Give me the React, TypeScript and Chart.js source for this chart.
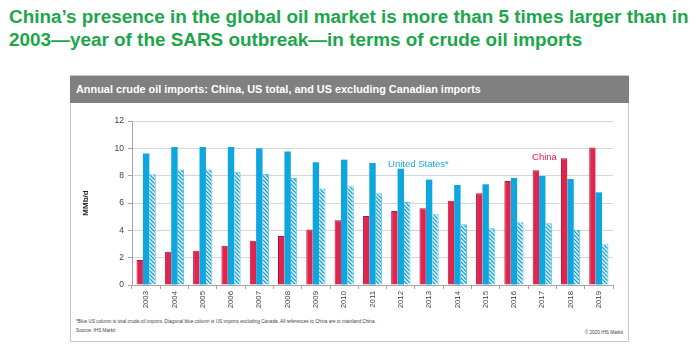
import React, { useEffect, useRef } from "react";
import { Chart, registerables } from "chart.js";

Chart.register(...registerables);

const years = ["2003", "2004", "2005", "2006", "2007", "2008", "2009", "2010", "2011", "2012", "2013", "2014", "2015", "2016", "2017", "2018", "2019"];
const china = [1.83, 2.44, 2.51, 2.88, 3.24, 3.59, 4.07, 4.73, 5.05, 5.41, 5.61, 6.17, 6.71, 7.61, 8.39, 9.27, 10.07];
const usTotal = [9.63, 10.1, 10.1, 10.1, 10.0, 9.76, 8.98, 9.17, 8.93, 8.51, 7.71, 7.32, 7.37, 7.83, 7.98, 7.76, 6.78];
const usExCanada = [8.1, 8.46, 8.46, 8.29, 8.12, 7.83, 7.07, 7.22, 6.71, 6.07, 5.17, 4.44, 4.15, 4.59, 4.51, 4.02, 2.98];
const yTicks = [0, 2, 4, 6, 8, 10, 12];

const titleText = "China\u2019s presence in the global oil market is more than 5 times larger than in 2003\u2014year of the SARS outbreak\u2014in terms of crude oil imports";
const headerText = "Annual crude oil imports: China, US total, and US excluding Canadian imports";
const footnoteText = "*Blue US column is total crude oil imports. Diagonal blue column is US imports excluding Canada. All references to China are to mainland China.";
const sourceText = "Source: IHS Markit";
const copyrightText = "\u00a9 2020 IHS Markit";

const seriesLabels = [
  { text: "United States*", index: 8.55, value: 8.85, color: "#1aa7df" },
  { text: "China", index: 13.64, value: 9.37, color: "#e2234b" },
];

const RED = "#e2234b";
const BLUE = "#0ea6df";
const FONT = '"Liberation Sans", Arial, sans-serif';

function makeHatch(): CanvasPattern | string {
  const c = document.createElement("canvas");
  c.width = 4;
  c.height = 4;
  const g = c.getContext("2d");
  if (!g) return BLUE;
  g.fillStyle = "#ffffff";
  g.fillRect(0, 0, 4, 4);
  g.strokeStyle = BLUE;
  g.lineWidth = 1.4;
  g.beginPath();
  g.moveTo(-1, -1); g.lineTo(5, 5);
  g.moveTo(-1, 3); g.lineTo(1, 5);
  g.moveTo(3, -1); g.lineTo(5, 1);
  g.stroke();
  const p = g.createPattern(c, "repeat");
  return p || BLUE;
}

const labelPlugin = {
  id: "seriesLabels",
  afterDatasetsDraw(chart: any) {
    const { ctx, scales } = chart;
    ctx.save();
    ctx.font = `9.5px ${FONT}`;
    ctx.textAlign = "left";
    ctx.textBaseline = "middle";
    seriesLabels.forEach((l) => {
      ctx.fillStyle = l.color;
      ctx.fillText(l.text, scales.x.getPixelForValue(l.index), scales.y.getPixelForValue(l.value));
    });
    ctx.restore();
  },
};

export default function App() {
  const ref = useRef<HTMLCanvasElement>(null);
  useEffect(() => {
    if (!ref.current) return;
    const hatch = makeHatch();
    const chart = new Chart(ref.current, {
      type: "bar",
      data: {
        labels: years,
        datasets: [
          { label: "China", data: china, backgroundColor: RED, borderColor: "#a8163a", borderWidth: { left: 1, top: 1, right: 0, bottom: 0 } as any, borderSkipped: false as any },
          { label: "US total", data: usTotal, backgroundColor: BLUE, borderWidth: 0 },
          { label: "US excl. Canada", data: usExCanada, backgroundColor: hatch as any, borderColor: "#5cc3ea", borderWidth: { left: 0, top: 1, right: 1, bottom: 0 } as any, borderSkipped: false as any },
        ],
      },
      options: {
        animation: false,
        responsive: false,
        maintainAspectRatio: false,
        layout: { padding: { top: 17, right: 15, left: 0, bottom: 0 } },
        plugins: { legend: { display: false }, tooltip: { enabled: false }, title: { display: false } },
        datasets: { bar: { categoryPercentage: 0.68, barPercentage: 1 } },
        scales: {
          x: {
            grid: { display: true, drawOnChartArea: false, drawTicks: true, tickLength: 4, color: "#a6a6a6", offset: true },
            border: { display: true, color: "#a6a6a6" },
            ticks: { minRotation: 90, maxRotation: 90, padding: 2, color: "#404040", font: { size: 7.8, family: FONT } },
            afterFit: (s: any) => { s.height = 34; },
          },
          y: {
            min: 0,
            max: 12,
            afterBuildTicks: (s: any) => { s.ticks = yTicks.map((v) => ({ value: v })); },
            grid: { color: "#d6d6d6", tickLength: 4, tickColor: "#a6a6a6" },
            border: { display: true, color: "#a6a6a6" },
            ticks: { padding: 4, color: "#404040", font: { size: 8.5, family: FONT } },
            title: { display: true, text: "MMb/d", color: "#222", font: { size: 8, weight: "bold", family: FONT }, padding: { top: 10, bottom: 0 } },
            afterFit: (s: any) => { s.width = 61; },
          },
        },
      },
      plugins: [labelPlugin],
    });
    return () => chart.destroy();
  }, []);

  return (
    <div style={{ position: "fixed", left: 0, top: 0, width: 700, height: 352, background: "#fff", fontFamily: FONT, overflow: "hidden" }}>
      <div style={{ position: "absolute", left: 9, top: 5, width: 690, color: "#1ca64c", fontWeight: "bold", fontSize: 18.9, lineHeight: "23px" }}>
        {titleText}
      </div>
      <div style={{ position: "absolute", left: 70, top: 75, width: 557, height: 265, border: "1px solid #c8c8c8" }} />
      <div style={{ position: "absolute", left: 70, top: 76, width: 559, height: 27, background: "#808080" }}>
        <div style={{ position: "absolute", left: 6, top: 7, color: "#fff", fontWeight: "bold", fontSize: 10.9, lineHeight: "13px", whiteSpace: "nowrap" }}>{headerText}</div>
      </div>
      <canvas ref={ref} width={557} height={215} style={{ position: "absolute", left: 71, top: 104, width: 557, height: 215, display: "block" }} />
      <div style={{ position: "absolute", left: 76, top: 319, fontSize: 4.7, lineHeight: "6px", color: "#404040", whiteSpace: "nowrap" }}>{footnoteText}</div>
      <div style={{ position: "absolute", left: 76, top: 328, fontSize: 4.7, lineHeight: "6px", color: "#404040", whiteSpace: "nowrap" }}>{sourceText}</div>
      <div style={{ position: "absolute", right: 77, top: 330, fontSize: 4.7, lineHeight: "6px", color: "#404040", whiteSpace: "nowrap" }}>{copyrightText}</div>
    </div>
  );
}
